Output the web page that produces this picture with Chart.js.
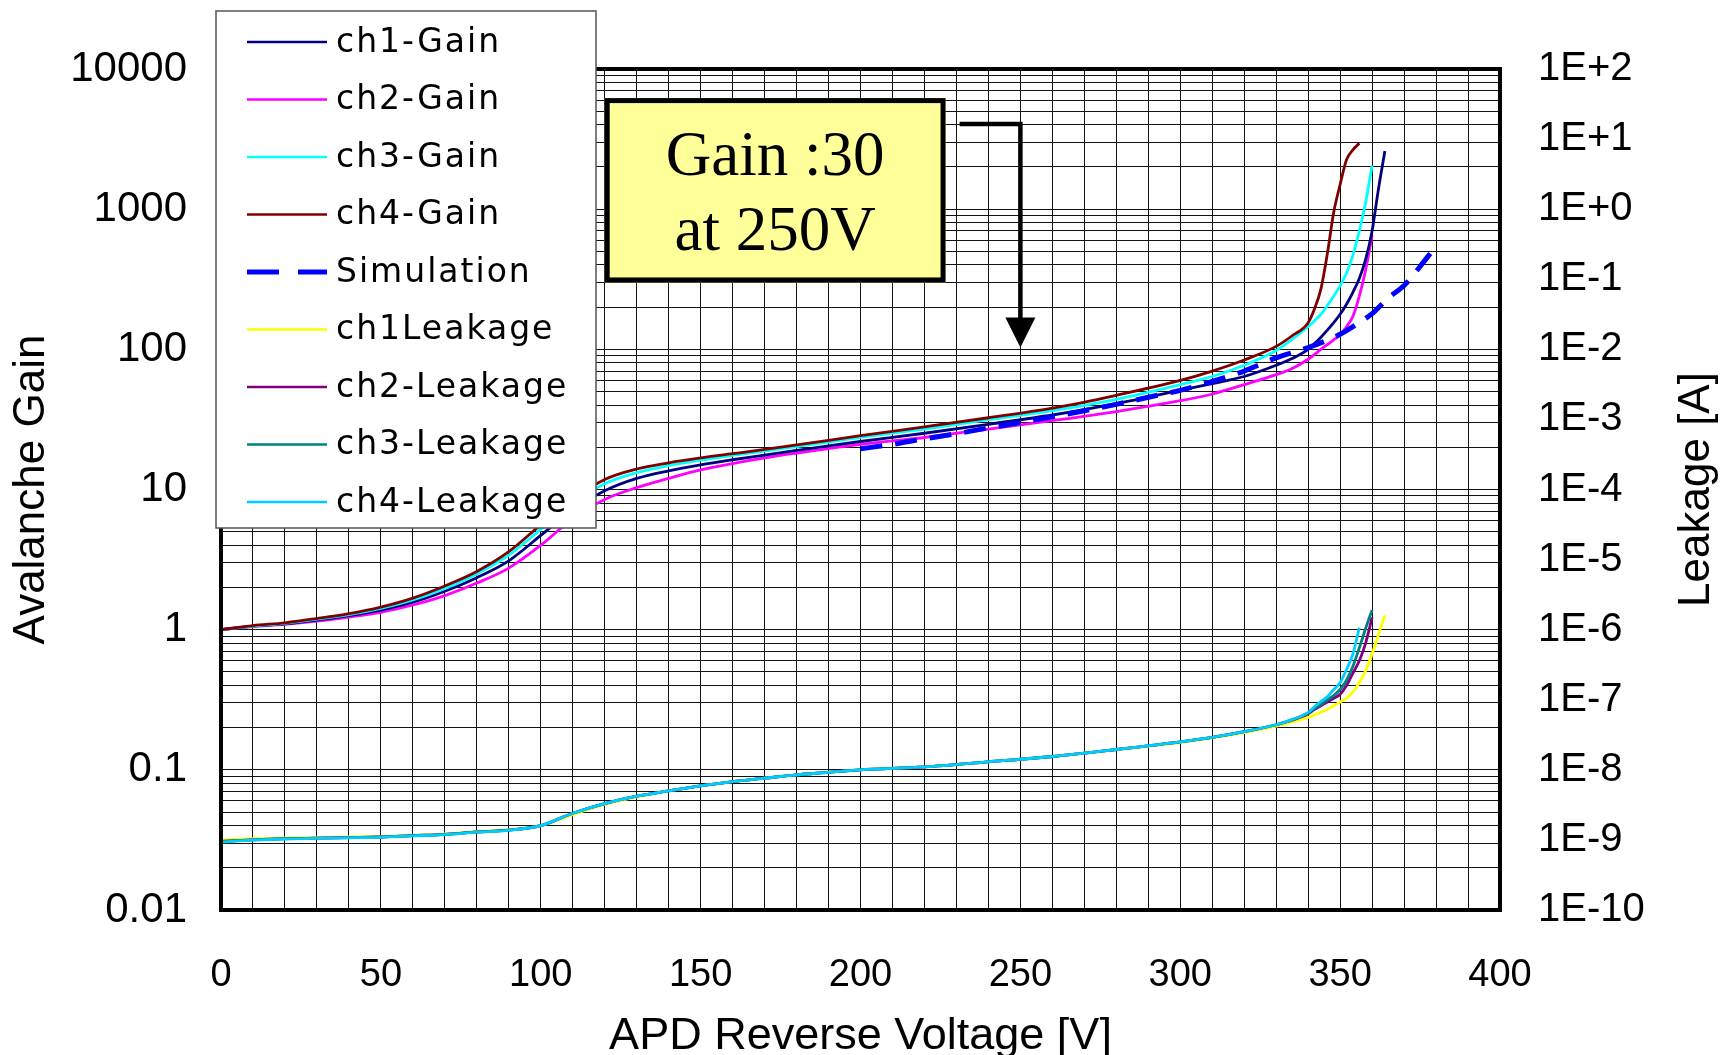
<!DOCTYPE html>
<html>
<head>
<meta charset="utf-8">
<script src="https://cdn.jsdelivr.net/npm/chart.js@4.4.1/dist/chart.umd.min.js"></script>
<style>
  html, body { margin: 0; padding: 0; background: #fff; }
  #wrap { width: 1722px; height: 1055px; }
</style>
</head>
<body>
<div id="wrap"><canvas id="apdChart" width="1722" height="1055"></canvas></div>
<script>
// APD reverse voltage [V], shared by the measured channels
const volts = [0, 10, 20, 30, 40, 50, 60, 70, 80, 90, 100, 110, 120, 130, 140, 150, 160, 170, 180, 190, 200,
  220, 240, 260, 280, 300, 310, 320, 330, 335, 340,
  342, 344, 346, 348, 350, 352, 354, 356, 358, 360, 362, 364];

// avalanche gain (left axis)
const ch1Gain = [1.0, 1.06, 1.1, 1.17, 1.26, 1.38, 1.57, 1.88, 2.35, 3.1, 4.7, 7.2, 9.8, 12, 13.6, 15, 16.3, 17.6, 19, 20.5, 22,
  25.2, 29.2, 34, 41, 51, 57, 64, 77, 86, 100,
  110, 122, 137, 155, 178, 210, 255, 320, 440, 700, 1400, 2600];
const ch2Gain = [1.0, 1.05, 1.09, 1.15, 1.23, 1.33, 1.5, 1.75, 2.15, 2.75, 4.0, 6.2, 8.5, 10.3, 12, 13.8, 15.3, 16.8, 18.2, 19.6, 21,
  23.5, 27, 31, 36, 43, 48, 56, 66, 73, 85,
  92, 100, 108, 117, 127, 145, 172, 240, 370, 650, null, null];
const ch3Gain = [1.0, 1.06, 1.11, 1.19, 1.28, 1.42, 1.63, 1.97, 2.5, 3.4, 5.2, 8, 11, 13.2, 14.8, 16.2, 17.5, 18.8, 20.2, 21.8, 23.5,
  27, 31.5, 36.5, 44, 56, 64, 77, 98, 118, 145,
  160, 178, 205, 240, 285, 350, 470, 700, 1120, 2050, null, null];
const ch4Gain = [1.0, 1.07, 1.12, 1.2, 1.3, 1.45, 1.68, 2.05, 2.6, 3.6, 5.6, 8.5, 11.8, 14, 15.5, 16.8, 18, 19.3, 20.8, 22.4, 24.2,
  28, 32.5, 38, 47, 60, 70, 84, 105, 125, 155,
  195, 270, 480, 950, 1500, 2250, 2650, 2950, null, null, null, null];

// simulated gain
const simVolts = [200, 210, 220, 230, 240, 250, 260, 270, 280, 290, 300, 310, 320, 330, 340, 350, 355, 360, 365, 370, 375, 379];
const simGain = [19.5, 21, 23, 25, 27.5, 30, 33, 36.5, 40.5, 45.5, 51, 59, 70, 87, 103, 128, 150, 180, 232, 285, 390, 510];

// leakage current [A] (right axis)
const ch1Leak = [1.0e-9, 1.04e-9, 1.07e-9, 1.08e-9, 1.1e-9, 1.12e-9, 1.16e-9, 1.22e-9, 1.32e-9, 1.4e-9, 1.6e-9, 2.3e-9, 3.2e-9, 4.1e-9, 5.0e-9, 5.9e-9, 6.8e-9, 7.6e-9, 8.5e-9, 9.2e-9, 1.0e-8,
  1.1e-8, 1.3e-8, 1.55e-8, 1.95e-8, 2.45e-8, 2.85e-8, 3.4e-8, 4.2e-8, 4.8e-8, 5.6e-8,
  6.1e-8, 6.6e-8, 7.3e-8, 8.2e-8, 9.3e-8, 1.05e-7, 1.3e-7, 1.75e-7, 2.6e-7, 4.5e-7, 8.5e-7, 1.6e-6];
const ch2Leak = [0.95e-9, 1.0e-9, 1.04e-9, 1.06e-9, 1.08e-9, 1.1e-9, 1.15e-9, 1.2e-9, 1.3e-9, 1.38e-9, 1.6e-9, 2.4e-9, 3.3e-9, 4.2e-9, 5.0e-9, 5.9e-9, 6.8e-9, 7.6e-9, 8.5e-9, 9.2e-9, 1.0e-8,
  1.1e-8, 1.3e-8, 1.55e-8, 1.95e-8, 2.5e-8, 2.9e-8, 3.5e-8, 4.4e-8, 5.1e-8, 6.3e-8,
  7.3e-8, 8.2e-8, 9.3e-8, 1.05e-7, 1.2e-7, 1.6e-7, 2.4e-7, 3.6e-7, 6.5e-7, 1.5e-6, null, null];
const ch3Leak = [0.95e-9, 1.0e-9, 1.04e-9, 1.06e-9, 1.08e-9, 1.1e-9, 1.15e-9, 1.2e-9, 1.3e-9, 1.38e-9, 1.6e-9, 2.4e-9, 3.3e-9, 4.2e-9, 5.0e-9, 5.9e-9, 6.8e-9, 7.6e-9, 8.5e-9, 9.2e-9, 1.0e-8,
  1.1e-8, 1.3e-8, 1.55e-8, 1.95e-8, 2.5e-8, 2.9e-8, 3.5e-8, 4.4e-8, 5.2e-8, 6.5e-8,
  7.5e-8, 8.5e-8, 1.0e-7, 1.15e-7, 1.4e-7, 1.9e-7, 3.0e-7, 5.5e-7, 1.05e-6, 1.9e-6, null, null];
const ch4Leak = [0.93e-9, 0.99e-9, 1.03e-9, 1.05e-9, 1.07e-9, 1.09e-9, 1.14e-9, 1.19e-9, 1.29e-9, 1.37e-9, 1.6e-9, 2.4e-9, 3.3e-9, 4.2e-9, 5.0e-9, 5.9e-9, 6.8e-9, 7.6e-9, 8.5e-9, 9.2e-9, 1.0e-8,
  1.1e-8, 1.3e-8, 1.55e-8, 1.95e-8, 2.5e-8, 2.9e-8, 3.5e-8, 4.4e-8, 5.2e-8, 6.6e-8,
  8.0e-8, 9.5e-8, 1.1e-7, 1.4e-7, 1.75e-7, 2.7e-7, 4.5e-7, 1.07e-6, null, null, null, null];

// tick labels
const gainDecades = [0.01, 0.1, 1, 10, 100, 1000, 10000];
const gainLabels = ["0.01", "0.1", "1", "10", "100", "1000", "10000"];
const leakDecades = [1e-10, 1e-9, 1e-8, 1e-7, 1e-6, 1e-5, 1e-4, 1e-3, 1e-2, 1e-1, 1e0, 1e1, 1e2];
const leakLabels = ["1E-10", "1E-9", "1E-8", "1E-7", "1E-6", "1E-5", "1E-4", "1E-3", "1E-2", "1E-1", "1E+0", "1E+1", "1E+2"];

const noteLines = ["Gain :30", "at 250V"];

const toPoints = (xs, ys) =>
  xs.map((x, i) => ({ x: x, y: ys[i] })).filter((p) => p.y !== null);

const line = (label, xs, ys, color, axis, order, extra) =>
  Object.assign({
    label: label,
    data: toPoints(xs, ys),
    borderColor: color,
    backgroundColor: color,
    borderWidth: 2.8,
    pointRadius: 0,
    cubicInterpolationMode: "monotone",
    yAxisID: axis,
    order: order,
  }, extra || {});

// legend box drawn over the plot, upper left
const legendBox = {
  id: "legendBox",
  afterDatasetsDraw(chart) {
    const ctx = chart.ctx;
    ctx.save();
    ctx.fillStyle = "#fff";
    ctx.fillRect(216, 11, 380, 517);
    ctx.strokeStyle = "#555";
    ctx.lineWidth = 1.5;
    ctx.strokeRect(216, 11, 380, 517);
    ctx.font = "33px 'DejaVu Sans'";
    ctx.textBaseline = "middle";
    ctx.fillStyle = "#000";
    if ("letterSpacing" in ctx) ctx.letterSpacing = "2px";
    chart.data.datasets.forEach((ds, i) => {
      const y = 42 + i * 57.5;
      ctx.beginPath();
      ctx.strokeStyle = ds.borderColor;
      ctx.lineWidth = ds.borderDash ? 5 : 2.5;
      ctx.setLineDash(ds.borderDash ? [32, 19] : []);
      ctx.moveTo(247, y);
      ctx.lineTo(327, y);
      ctx.stroke();
      ctx.setLineDash([]);
      ctx.fillText(ds.label, 336, y + 1);
    });
    ctx.restore();
  },
};

// yellow note box, arrow, plot frame, axis titles
const extras = {
  id: "extras",
  afterDatasetsDraw(chart) {
    const ctx = chart.ctx;
    const xs = chart.scales.x;
    const ys = chart.scales.yGain;
    const a = chart.chartArea;
    ctx.save();

    const bx0 = xs.getPixelForValue(120), bx1 = xs.getPixelForValue(226.6);
    const by0 = ys.getPixelForValue(6200), by1 = ys.getPixelForValue(300);
    ctx.fillStyle = "#FFFF99";
    ctx.fillRect(bx0, by0, bx1 - bx0, by1 - by0);
    ctx.strokeStyle = "#000";
    ctx.lineWidth = 5;
    ctx.strokeRect(bx0 + 2.5, by0 + 2.5, bx1 - bx0 - 5, by1 - by0 - 5);
    ctx.fillStyle = "#000";
    ctx.font = "63px 'Liberation Serif'";
    ctx.textAlign = "center";
    ctx.textBaseline = "alphabetic";
    const cx = (bx0 + bx1) / 2;
    ctx.fillText(noteLines[0], cx, by0 + 77);
    ctx.fillText(noteLines[1], cx, by0 + 152);

    const ax0 = xs.getPixelForValue(231), ax1 = xs.getPixelForValue(250);
    const ay0 = ys.getPixelForValue(4050), ayTip = ys.getPixelForValue(103);
    ctx.lineWidth = 4.5;
    ctx.beginPath();
    ctx.moveTo(ax0, ay0);
    ctx.lineTo(ax1, ay0);
    ctx.lineTo(ax1, ayTip - 28);
    ctx.stroke();
    ctx.beginPath();
    ctx.moveTo(ax1 - 15, ayTip - 30);
    ctx.lineTo(ax1 + 15, ayTip - 30);
    ctx.lineTo(ax1, ayTip);
    ctx.closePath();
    ctx.fill();

    ctx.lineWidth = 4;
    ctx.strokeRect(a.left, a.top, a.right - a.left, a.bottom - a.top);

    ctx.textBaseline = "middle";
    ctx.font = "45px 'Liberation Sans'";
    ctx.fillText("APD Reverse Voltage [V]", (a.left + a.right) / 2, 1037);

    ctx.translate(1697, (a.top + a.bottom) / 2);
    ctx.rotate(-Math.PI / 2);
    ctx.font = "44px 'Liberation Sans'";
    ctx.fillText("Leakage [A]", 0, 0);
    ctx.restore();
  },
};

const gainTicks = [];
gainDecades.forEach((d, i) => {
  gainTicks.push(d);
  if (i < gainDecades.length - 1) {
    for (let m = 2; m <= 9; m++) gainTicks.push(d * m);
  }
});

new Chart(document.getElementById("apdChart"), {
  type: "line",
  data: {
    datasets: [
      line("ch1-Gain", volts, ch1Gain, "#000080", "yGain", 3),
      line("ch2-Gain", volts, ch2Gain, "#FF00FF", "yGain", 4),
      line("ch3-Gain", volts, ch3Gain, "#00FFFF", "yGain", 2),
      line("ch4-Gain", volts, ch4Gain, "#800000", "yGain", 1),
      line("Simulation", simVolts, simGain, "#0000FF", "yGain", 0, { borderWidth: 5, borderDash: [22, 13] }),
      line("ch1Leakage", volts, ch1Leak, "#FFFF00", "yLeak", 8),
      line("ch2-Leakage", volts, ch2Leak, "#800080", "yLeak", 7),
      line("ch3-Leakage", volts, ch3Leak, "#008080", "yLeak", 6),
      line("ch4-Leakage", volts, ch4Leak, "#00CCFF", "yLeak", 5),
    ],
  },
  options: {
    responsive: false,
    animation: false,
    layout: { padding: { top: 69, left: 0, right: 0, bottom: 0 } },
    plugins: {
      legend: { display: false },
      tooltip: { enabled: false },
    },
    scales: {
      x: {
        type: "linear",
        min: 0,
        max: 400,
        afterFit: (scale) => { scale.height = 145; },
        grid: { color: "#111", lineWidth: 1, drawTicks: false },
        border: { display: false },
        ticks: {
          stepSize: 10,
          autoSkip: false,
          maxRotation: 0,
          padding: 43,
          color: "#000",
          font: { family: "Liberation Sans", size: 38 },
          callback: (v) => (v % 50 === 0 ? String(v) : ""),
        },
      },
      yGain: {
        type: "logarithmic",
        position: "left",
        min: 0.01,
        max: 10000,
        afterFit: (scale) => { scale.width = 221; },
        afterBuildTicks: (scale) => {
          scale.ticks = gainTicks.map((v) => ({ value: v }));
        },
        grid: { color: "#111", lineWidth: 1, drawTicks: false },
        border: { display: false },
        ticks: {
          autoSkip: false,
          padding: 34,
          color: "#000",
          font: { family: "Liberation Sans", size: 42 },
          callback: (v) => {
            const i = gainDecades.indexOf(v);
            return i >= 0 ? gainLabels[i] : "";
          },
        },
        title: {
          display: true,
          text: "Avalanche Gain",
          color: "#000",
          font: { family: "Liberation Sans", size: 44 },
          padding: { top: 5, bottom: 0 },
        },
      },
      yLeak: {
        type: "logarithmic",
        position: "right",
        min: 1e-10,
        max: 1e2,
        afterFit: (scale) => { scale.width = 222; },
        afterBuildTicks: (scale) => {
          scale.ticks = leakDecades.map((v) => ({ value: v }));
        },
        grid: { drawOnChartArea: false, drawTicks: false },
        border: { display: false },
        ticks: {
          autoSkip: false,
          padding: 38,
          color: "#000",
          font: { family: "Liberation Sans", size: 40 },
          callback: (v) => {
            const i = leakDecades.indexOf(v);
            return i >= 0 ? leakLabels[i] : "";
          },
        },
      },
    },
  },
  plugins: [extras, legendBox],
});
</script>
</body>
</html>
